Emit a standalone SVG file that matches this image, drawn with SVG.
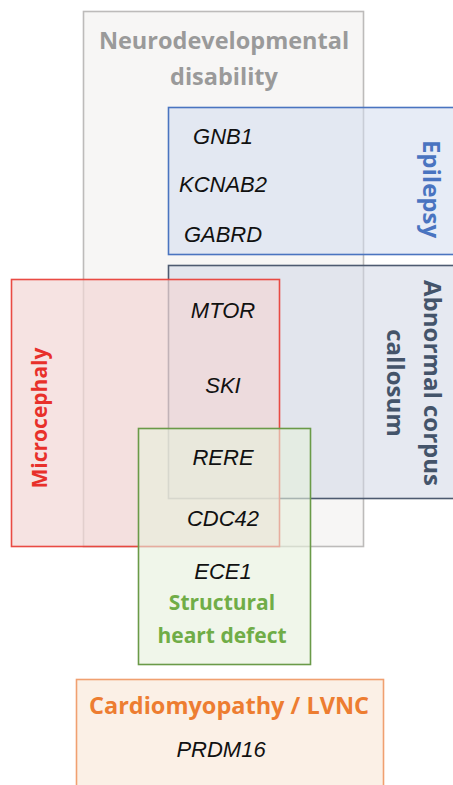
<svg xmlns="http://www.w3.org/2000/svg" width="453" height="785" viewBox="0 0 453 785">
<style>
.box{stroke-width:1.6}
.gene{font-family:"Liberation Sans",Arial,sans-serif;font-style:italic;font-size:22px;fill:#111;text-anchor:middle}
.lbl{font-family:"Open Sans","Liberation Sans",sans-serif;font-weight:bold;font-size:23.5px;text-anchor:middle}
.sm{font-size:21px}
</style>
<rect width="453" height="785" fill="#fff"/>
<g id="neuro">
<rect class="box" x="83.5" y="11.5" width="280" height="535" fill="#f7f6f5" stroke="#bdbbba"/>
<text class="lbl" x="224" y="49" fill="#9a9a9a">Neurodevelopmental</text>
<text class="lbl" x="224" y="85" fill="#9a9a9a">disability</text>
</g>
<g id="epilepsy">
<rect class="box" x="168.5" y="107.5" width="290" height="147" fill="#d4dcee" fill-opacity="0.55" stroke="#4a74c0"/>
<text class="lbl" transform="translate(423,189) rotate(90)" fill="#4a74c0" style="font-size:24px">Epilepsy</text>
</g>
<g id="corpus">
<rect class="box" x="168.5" y="265.5" width="290" height="233" fill="#d2d7e5" fill-opacity="0.55" stroke="#4d5a70"/>
<text class="lbl" transform="translate(424,383) rotate(90)" fill="#44546a" style="font-size:24px">Abnormal corpus</text>
<text class="lbl" transform="translate(387,383) rotate(90)" fill="#44546a" style="font-size:24px">callosum</text>
</g>
<g id="microcephaly">
<rect class="box" x="11.5" y="279.5" width="268" height="267" fill="#f2d7d5" fill-opacity="0.7" stroke="#e8413a" stroke-opacity="0.95"/>
<text class="lbl sm" transform="translate(47,418) rotate(-90)" fill="#e8302a">Microcephaly</text>
</g>
<g id="heart">
<rect class="box" x="138.5" y="428.5" width="172" height="236" fill="#e6f0dc" fill-opacity="0.6" stroke="#6a9a48"/>
<text class="lbl sm" x="222" y="610" fill="#70ad47">Structural</text>
<text class="lbl sm" x="222" y="643" fill="#70ad47">heart defect</text>
</g>
<g id="cardio">
<rect class="box" x="76.5" y="679.5" width="307" height="110" fill="#fbf0e6" stroke="#f0a070"/>
<text class="lbl" x="229" y="714" fill="#ed7d31">Cardiomyopathy / LVNC</text>
<text class="gene" x="221" y="757">PRDM16</text>
</g>
<g id="genes">
<text class="gene" x="223" y="144">GNB1</text>
<text class="gene" x="223" y="192">KCNAB2</text>
<text class="gene" x="223" y="242">GABRD</text>
<text class="gene" x="223" y="318">MTOR</text>
<text class="gene" x="223" y="393">SKI</text>
<text class="gene" x="223" y="465">RERE</text>
<text class="gene" x="223" y="526">CDC42</text>
<text class="gene" x="223" y="579">ECE1</text>
</g>
<g id="connectors"/>
</svg>
